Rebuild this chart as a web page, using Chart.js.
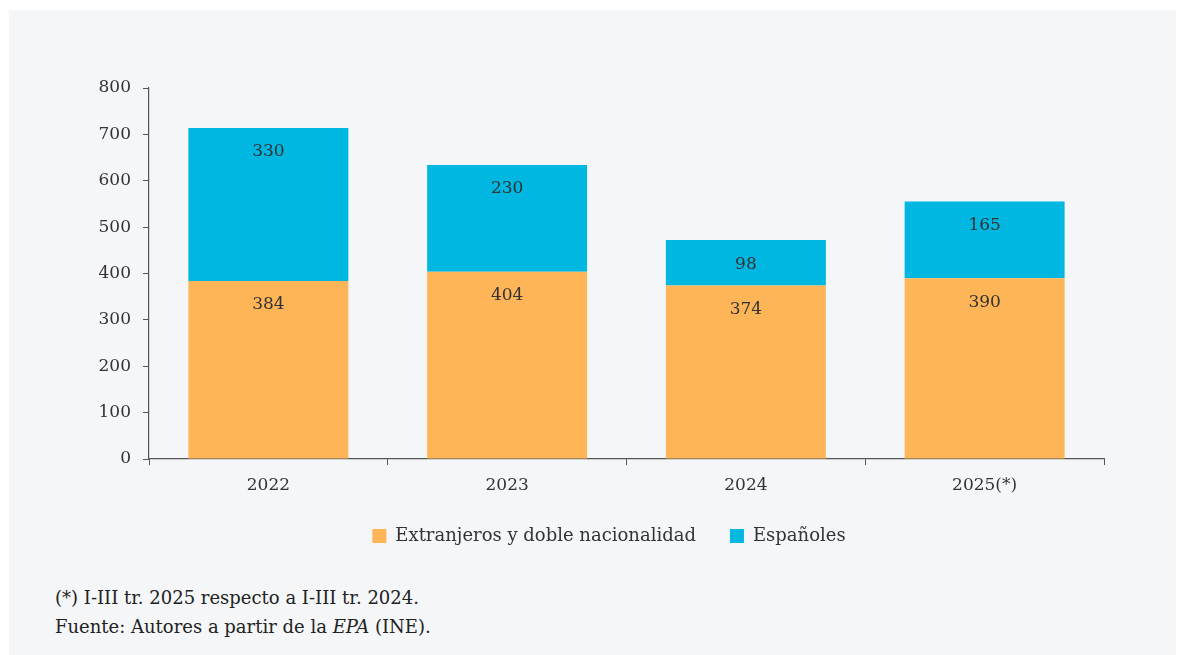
<!DOCTYPE html>
<html>
<head>
<meta charset="utf-8">
<script src="https://cdn.jsdelivr.net/npm/chart.js@4"></script>
<style>
  body { margin: 0; background: #ffffff; }
  #panel { position: absolute; left: 9px; top: 10px; width: 1167px; height: 645px; background: #f5f6f8; }
  #wrap { position: absolute; left: 0; top: 0; width: 1178px; height: 587px; }
  .nota { position: absolute; left: 55px; font-family: "DejaVu Serif", serif; font-size: 18px; color: #222; }
</style>
</head>
<body>
<div id="panel"></div>
<div id="wrap"><canvas id="myChart"></canvas></div>
<div class="nota" style="top:587px">(*) I-III tr. 2025 respecto a I-III tr. 2024.</div>
<div class="nota" style="top:616px">Fuente: Autores a partir de la <i>EPA</i> (INE).</div>

<script>
// datos
const anios = ["2022", "2023", "2024", "2025(*)"];
const extranjeros = [384, 404, 374, 390];
const espanoles = [330, 230, 98, 165];
const ticksY = [0, 100, 200, 300, 400, 500, 600, 700, 800];

const fuente = "DejaVu Serif";
const colorTexto = "#333333";

// etiquetas dentro de las barras, arriba de cada tramo
const etiquetas = {
    id: "etiquetas",
    afterDatasetsDraw(chart) {
        const ctx = chart.ctx;
        ctx.save();
        ctx.font = "17px '" + fuente + "'";
        ctx.fillStyle = colorTexto;
        ctx.textAlign = "center";
        ctx.textBaseline = "middle";
        chart.data.datasets.forEach((ds, i) => {
            chart.getDatasetMeta(i).data.forEach((bar, j) => {
                ctx.fillText(ds.data[j], bar.x, bar.y + 24);
            });
        });
        ctx.restore();
    }
};

// mover la leyenda (centrada bajo el area del grafico)
const moverLeyenda = {
    id: "moverLeyenda",
    afterLayout(chart) {
        const lg = chart.legend;
        lg.left += 57; lg.right += 57;
        lg.top -= 25; lg.bottom -= 25;
    }
};

const config = {
    type: "bar",
    data: {
        labels: anios,
        datasets: [
            { label: "Extranjeros y doble nacionalidad", data: extranjeros, backgroundColor: "#feb557", borderWidth: 0 },
            { label: "Españoles", data: espanoles, backgroundColor: "#00b7e1", borderWidth: 0 }
        ]
    },
    options: {
        responsive: true,
        maintainAspectRatio: false,
        animation: false,
        barPercentage: 0.67,
        categoryPercentage: 1,
        layout: { padding: { top: 88, left: 0, right: 74, bottom: 7 } },
        plugins: {
            tooltip: { enabled: false },
            legend: {
                position: "bottom",
                labels: {
                    font: { family: fuente, size: 18 },
                    color: colorTexto,
                    boxWidth: 14,
                    boxHeight: 14,
                    padding: 34
                }
            }
        },
        scales: {
            x: {
                stacked: true,
                grid: { drawOnChartArea: false, drawTicks: true, tickLength: 6, color: "#555", offset: true },
                border: { color: "#555", width: 1.2 },
                ticks: { font: { family: fuente, size: 17 }, color: colorTexto, padding: 10 },
                afterFit(scale) { scale.height = 59; }
            },
            y: {
                stacked: true,
                min: 0,
                max: 800,
                afterBuildTicks(scale) { scale.ticks = ticksY.map(v => ({ value: v })); },
                grid: { drawOnChartArea: false, drawTicks: true, tickLength: 6, color: "#555" },
                border: { color: "#555", width: 1.2 },
                ticks: { font: { family: fuente, size: 17 }, color: colorTexto, padding: 12 },
                afterFit(scale) { scale.width = 149; }
            }
        }
    },
    plugins: [etiquetas, moverLeyenda]
};

new Chart(document.getElementById("myChart"), config);
</script>
</body>
</html>
